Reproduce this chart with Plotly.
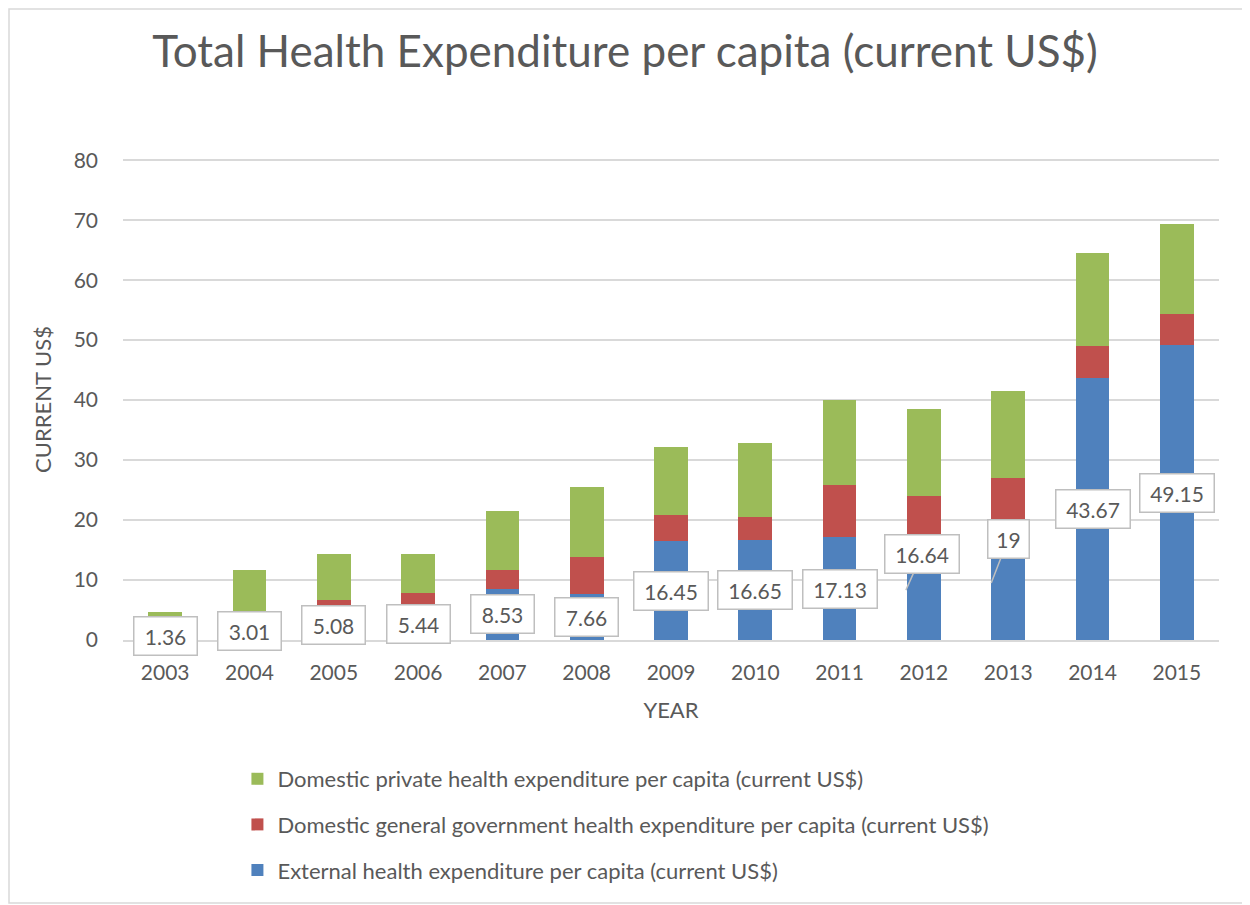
import plotly.graph_objects as go

years = ["2003", "2004", "2005", "2006", "2007", "2008", "2009",
         "2010", "2011", "2012", "2013", "2014", "2015"]
external = [1.36, 3.01, 5.08, 5.44, 8.53, 7.66, 16.45, 16.65, 17.13, 16.64, 19, 43.67, 49.15]
government = [1.0, 1.7, 1.62, 2.33, 3.12, 6.2, 4.4, 3.87, 8.7, 7.43, 8.0, 5.33, 5.15]
private = [2.24, 7.0, 7.6, 6.63, 9.85, 11.7, 11.25, 12.3, 14.25, 14.48, 14.6, 15.6, 15.0]

series_names = [
    "External health expenditure per capita (current US$)",
    "Domestic general government health expenditure per capita (current US$)",
    "Domestic private health expenditure per capita (current US$)",
]
colors = ["#4F81BD", "#C0504D", "#9BBB59"]

# callouts that were dragged off the bar in the original (pixel offsets)
callout_offsets = {"2012": (-18, 16, -36), "2013": (-17, 17, -44)}

FONT = "Lato"
GREY = "#595959"
# the page body adds an 8px offset; margins are shifted to compensate
W, H = 1250, 905
M = {"l": 115, "r": 39, "t": 151, "b": 273}

fig = go.Figure()
for i, (name, vals, col) in enumerate(zip(series_names, [external, government, private], colors)):
    fig.add_trace(
        go.Bar(
            x=years,
            y=vals,
            name=name,
            marker={"color": col, "line": {"width": 0}},
            legendgroup=name,
            legendrank=3 - i,
        )
    )

# category axis: annotations use the category index
for idx, (yr, val) in enumerate(zip(years, external)):
    text = f"{val:g}"
    ann = dict(
        x=idx,
        y=val / 2,
        text=text,
        font={"family": FONT, "size": 21, "color": GREY},
        bgcolor="white",
        bordercolor="#bfbfbf",
        borderwidth=1.5,
        borderpad=6,
        width=len(text) * 11 + 6,
        height=25,
        showarrow=False,
    )
    if yr in callout_offsets:
        xs, ax, ay = callout_offsets[yr]
        ann.update(showarrow=True, arrowhead=0, arrowwidth=1.5,
                   arrowcolor="#bfbfbf", xshift=xs, ax=ax, ay=ay)
    fig.add_annotation(**ann)

# light chart-area frame
pw = W - M["l"] - M["r"]
ph = H - M["t"] - M["b"]
fig.add_shape(
    type="rect", xref="paper", yref="paper",
    x0=(1 - M["l"]) / pw, x1=(1240 - M["l"]) / pw,
    y0=-(895 - M["t"] - ph) / ph, y1=(M["t"] - 1 + ph) / ph,
    line={"color": "#d9d9d9", "width": 1.5}, layer="below",
)

fig.update_layout(
    width=W,
    height=H,
    barmode="stack",
    bargap=0.6,
    plot_bgcolor="white",
    paper_bgcolor="white",
    margin=M,
    font={"family": FONT, "size": 21, "color": GREY},
    title={
        "text": "Total Health Expenditure per capita (current US$)",
        "x": 617 / W,
        "xanchor": "center",
        "y": 1 - 44 / H,
        "yanchor": "middle",
        "font": {"family": FONT, "size": 44, "color": GREY},
    },
    xaxis={
        "type": "category",
        "title": {"text": "YEAR", "standoff": 20, "font": {"family": FONT, "size": 22}},
        "showgrid": False,
        "showline": True,
        "linecolor": "#d9d9d9",
        "linewidth": 1.5,
        "ticks": "",
        "ticklabelstandoff": 13,
    },
    yaxis={
        "title": {"text": "CURRENT US$", "standoff": 15, "font": {"family": FONT, "size": 22}},
        "range": [0, 80.2],
        "tickvals": [0, 10, 20, 30, 40, 50, 60, 70, 80],
        "showgrid": True,
        "gridcolor": "#d9d9d9",
        "gridwidth": 1.5,
        "zeroline": False,
        "ticks": "",
        "ticklabelstandoff": 24,
    },
    legend={
        "orientation": "v",
        "traceorder": "grouped",
        "tracegroupgap": 14,
        "x": 0.1044,
        "xanchor": "left",
        "y": -0.2453,
        "yanchor": "top",
        "bgcolor": "rgba(0,0,0,0)",
        "font": {"family": FONT, "size": 22, "color": GREY},
    },
    showlegend=True,
)

fig.write_html("out.html")
